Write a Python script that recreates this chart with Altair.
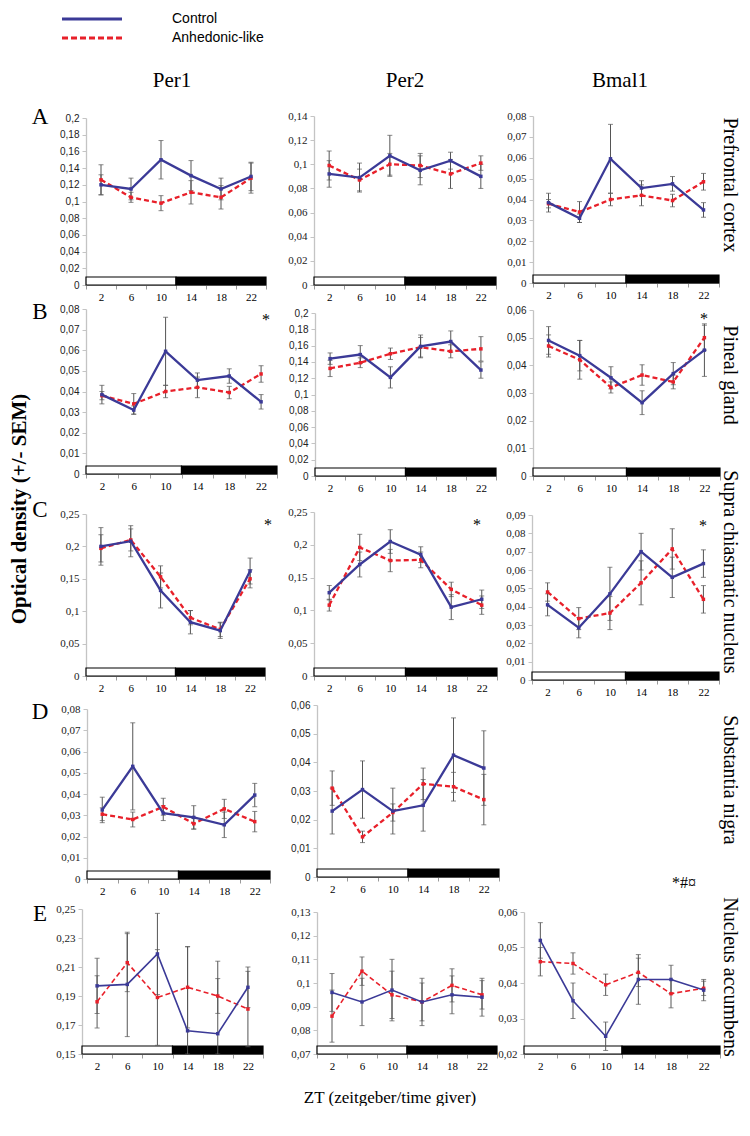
import altair as alt
import pandas as pd

ZT = [2, 6, 10, 14, 18, 22]
ZT_EDGES = [0, 4, 8, 12, 16, 20, 24]
LD_START = [0, 12]
LD_END = [12, 24]
LD_FILL = ["white", "black"]

SERIF = "Liberation Serif"
SANS = "Liberation Sans"
BLUE = "#3b3a97"
RED = "#e8202a"
ERRC = "#555555"

# ---- Row A: Prefrontal cortex ----
A_PER1_CTRL = [0.120, 0.115, 0.150, 0.131, 0.115, 0.130]
A_PER1_CTRL_ERR = [0.012, 0.013, 0.023, 0.018, 0.013, 0.017]
A_PER1_ANH = [0.126, 0.105, 0.098, 0.111, 0.105, 0.128]
A_PER1_ANH_ERR = [0.018, 0.006, 0.009, 0.014, 0.014, 0.018]
A_PER1_TICKS = [0, 0.02, 0.04, 0.06, 0.08, 0.1, 0.12, 0.14, 0.16, 0.18, 0.2]

A_PER2_CTRL = [0.092, 0.089, 0.107, 0.095, 0.103, 0.090]
A_PER2_CTRL_ERR = [0.011, 0.012, 0.017, 0.012, 0.007, 0.010]
A_PER2_ANH = [0.099, 0.087, 0.100, 0.099, 0.092, 0.101]
A_PER2_ANH_ERR = [0.012, 0.009, 0.009, 0.010, 0.012, 0.006]
A_PER2_TICKS = [0, 0.02, 0.04, 0.06, 0.08, 0.1, 0.12, 0.14]

A_BMAL1_CTRL = [0.0385, 0.031, 0.0595, 0.0455, 0.0475, 0.035]
A_BMAL1_CTRL_ERR = [0.0045, 0.002, 0.0165, 0.0035, 0.0035, 0.0035]
A_BMAL1_ANH = [0.038, 0.034, 0.040, 0.042, 0.0395, 0.0485]
A_BMAL1_ANH_ERR = [0.002, 0.005, 0.003, 0.005, 0.003, 0.004]
A_BMAL1_TICKS = [0, 0.01, 0.02, 0.03, 0.04, 0.05, 0.06, 0.07, 0.08]

# ---- Row B: Pineal gland ----
B_PER1_CTRL = [0.0385, 0.031, 0.0595, 0.0455, 0.0475, 0.035]
B_PER1_CTRL_ERR = [0.0045, 0.002, 0.0165, 0.0035, 0.0035, 0.0035]
B_PER1_ANH = [0.038, 0.034, 0.040, 0.042, 0.0395, 0.0485]
B_PER1_ANH_ERR = [0.002, 0.005, 0.003, 0.005, 0.003, 0.004]
B_PER1_TICKS = [0, 0.01, 0.02, 0.03, 0.04, 0.05, 0.06, 0.07, 0.08]

B_PER2_CTRL = [0.144, 0.149, 0.121, 0.159, 0.165, 0.130]
B_PER2_CTRL_ERR = [0.007, 0.011, 0.013, 0.014, 0.013, 0.010]
B_PER2_ANH = [0.132, 0.139, 0.150, 0.158, 0.153, 0.156]
B_PER2_ANH_ERR = [0.010, 0.006, 0.007, 0.012, 0.008, 0.015]
B_PER2_TICKS = [0, 0.02, 0.04, 0.06, 0.08, 0.1, 0.12, 0.14, 0.16, 0.18, 0.2]

B_BMAL1_CTRL = [0.049, 0.0435, 0.0355, 0.0265, 0.037, 0.0455]
B_BMAL1_CTRL_ERR = [0.005, 0.0055, 0.004, 0.0043, 0.004, 0.0095]
B_BMAL1_ANH = [0.047, 0.042, 0.032, 0.0365, 0.034, 0.050]
B_BMAL1_ANH_ERR = [0.004, 0.007, 0.002, 0.0037, 0.0025, 0.0045]
B_BMAL1_TICKS = [0, 0.01, 0.02, 0.03, 0.04, 0.05, 0.06]

# ---- Row C: Supra chiasmatic nucleus ----
C_PER1_CTRL = [0.200, 0.208, 0.132, 0.083, 0.070, 0.162]
C_PER1_CTRL_ERR = [0.029, 0.024, 0.027, 0.018, 0.012, 0.020]
C_PER1_ANH = [0.197, 0.210, 0.153, 0.090, 0.072, 0.150]
C_PER1_ANH_ERR = [0.021, 0.017, 0.017, 0.011, 0.011, 0.014]
C_PER1_TICKS = [0, 0.05, 0.1, 0.15, 0.2, 0.25]

C_PER2_CTRL = [0.127, 0.170, 0.205, 0.185, 0.105, 0.117]
C_PER2_CTRL_ERR = [0.011, 0.019, 0.018, 0.012, 0.019, 0.014]
C_PER2_ANH = [0.108, 0.196, 0.176, 0.177, 0.132, 0.108]
C_PER2_ANH_ERR = [0.009, 0.020, 0.017, 0.012, 0.011, 0.014]
C_PER2_TICKS = [0, 0.05, 0.1, 0.15, 0.2, 0.25]

C_BMAL1_CTRL = [0.041, 0.0285, 0.047, 0.070, 0.056, 0.0635]
C_BMAL1_CTRL_ERR = [0.006, 0.0055, 0.0145, 0.010, 0.011, 0.0075]
C_BMAL1_ANH = [0.048, 0.0335, 0.0365, 0.053, 0.0715, 0.044]
C_BMAL1_ANH_ERR = [0.005, 0.006, 0.009, 0.012, 0.011, 0.0075]
C_BMAL1_TICKS = [0, 0.01, 0.02, 0.03, 0.04, 0.05, 0.06, 0.07, 0.08, 0.09]

# ---- Row D: Substantia nigra ----
D_PER1_CTRL = [0.0325, 0.053, 0.031, 0.029, 0.0255, 0.0395]
D_PER1_CTRL_ERR = [0.006, 0.0205, 0.0035, 0.0055, 0.006, 0.0055]
D_PER1_ANH = [0.0305, 0.028, 0.034, 0.026, 0.033, 0.027]
D_PER1_ANH_ERR = [0.003, 0.0035, 0.004, 0.0025, 0.0045, 0.0048]
D_PER1_TICKS = [0, 0.01, 0.02, 0.03, 0.04, 0.05, 0.06, 0.07, 0.08]

D_PER2_CTRL = [0.023, 0.0305, 0.023, 0.025, 0.0425, 0.038]
D_PER2_CTRL_ERR = [0.008, 0.010, 0.008, 0.009, 0.013, 0.013]
D_PER2_ANH = [0.031, 0.014, 0.0225, 0.0325, 0.0315, 0.027]
D_PER2_ANH_ERR = [0.006, 0.002, 0.003, 0.0055, 0.005, 0.0088]
D_PER2_TICKS = [0, 0.01, 0.02, 0.03, 0.04, 0.05, 0.06]

# ---- Row E: Nucleus accumbens ----
E_PER1_CTRL = [0.197, 0.198, 0.219, 0.166, 0.164, 0.196]
E_PER1_CTRL_ERR = [0.019, 0.036, 0.028, 0.058, 0.050, 0.014]
E_PER1_ANH = [0.186, 0.213, 0.189, 0.196, 0.190, 0.181]
E_PER1_ANH_ERR = [0.018, 0.020, 0.033, 0.028, 0.012, 0.026]
E_PER1_TICKS = [0.15, 0.17, 0.19, 0.21, 0.23, 0.25]

E_PER2_CTRL = [0.096, 0.092, 0.097, 0.092, 0.095, 0.094]
E_PER2_CTRL_ERR = [0.008, 0.010, 0.013, 0.008, 0.008, 0.008]
E_PER2_ANH = [0.086, 0.105, 0.095, 0.092, 0.099, 0.095]
E_PER2_ANH_ERR = [0.011, 0.006, 0.010, 0.010, 0.007, 0.006]
E_PER2_TICKS = [0.07, 0.08, 0.09, 0.1, 0.11, 0.12, 0.13]

E_BMAL1_CTRL = [0.052, 0.035, 0.025, 0.041, 0.041, 0.038]
E_BMAL1_CTRL_ERR = [0.005, 0.005, 0.004, 0.007, 0.004, 0.003]
E_BMAL1_ANH = [0.046, 0.0455, 0.0395, 0.043, 0.037, 0.0385]
E_BMAL1_ANH_ERR = [0.004, 0.003, 0.003, 0.004, 0.004, 0.002]
E_BMAL1_TICKS = [0.02, 0.03, 0.04, 0.05, 0.06]

GENES = ["Per1", "Per2", "Bmal1"]
REGIONS = ["Prefrontal cortex", "Pineal gland", "Supra chiasmatic nucleus",
           "Substantia nigra", "Nucleus accumbens"]
LETTERS = ["A", "B", "C", "D", "E"]
LEGEND = ["Control", "Anhedonic-like"]
Y_TITLE = "Optical density (+/- SEM)"
X_TITLE = "ZT (zeitgeber/time giver)"

ONE = pd.DataFrame({"k": [0]})
LD_DF = pd.DataFrame({"s": LD_START, "e": LD_END, "f": LD_FILL})


def txt(text, x, y, font=SERIF, size=12, angle=0, align="center",
        baseline="middle", weight="normal", color="black"):
    return alt.Chart(ONE).mark_text(
        text=text, font=font, fontSize=size, angle=angle, align=align,
        baseline=baseline, fontWeight=weight, color=color
    ).encode(x=alt.value(x), y=alt.value(y))


def panel(ctrl, ctrl_err, anh, anh_err, ticks, W, H, xr, yr,
          lab_font=SERIF, lw=2.3, extras=()):
    x0, x1 = xr
    ytop, ybot = yr
    dc = pd.DataFrame({"zt": ZT, "v": ctrl,
                       "lo": [v - e for v, e in zip(ctrl, ctrl_err)],
                       "hi": [v + e for v, e in zip(ctrl, ctrl_err)]})
    da = pd.DataFrame({"zt": ZT, "v": anh,
                       "lo": [v - e for v, e in zip(anh, anh_err)],
                       "hi": [v + e for v, e in zip(anh, anh_err)]})
    dboth = pd.concat([dc, da], ignore_index=True)
    xs = alt.Scale(domain=[0, 24], range=[x0, x1], nice=False, zero=False)
    ys = alt.Scale(domain=[ticks[0], ticks[-1]], range=[ybot, ytop],
                   nice=False, zero=False, clamp=True)
    lab_size = 10 if lab_font == SANS else 11
    xaxis = alt.Axis(values=ZT_EDGES, title=None, grid=False,
                     labelExpr="datum.value < 24 ? toString(datum.value + 2) : ''",
                     labelOffset=(x1 - x0) / 12.0, labelFlush=False,
                     labelOverlap=False, labelFont=SERIF, labelFontSize=11,
                     labelPadding=2, tickSize=4, offset=ybot - H,
                     domainColor="#9a9a9a", tickColor="#9a9a9a",
                     labelColor="black")
    yaxis = alt.Axis(values=ticks, title=None, grid=False,
                     labelExpr="replace(toString(datum.value), '.', ',')",
                     labelOverlap=False, labelFont=lab_font,
                     labelFontSize=lab_size, labelPadding=3, tickSize=4,
                     offset=-x0, domainColor="#c4c4c4", domainWidth=1.3,
                     tickColor="#c4c4c4", labelColor="#222222")
    X = alt.X("zt:Q", scale=xs, axis=xaxis)
    ld = alt.Chart(LD_DF).mark_rect(stroke="black", strokeWidth=1.2).encode(
        x=alt.X("s:Q", scale=xs, axis=xaxis), x2="e:Q",
        y=alt.value(ybot - 8), y2=alt.value(ybot),
        fill=alt.Fill("f:N", scale=None))
    rules = alt.Chart(dboth).mark_rule(color=ERRC, strokeWidth=1).encode(
        x=X, y=alt.Y("lo:Q", scale=ys, axis=yaxis), y2="hi:Q")
    cap_lo = alt.Chart(dboth).mark_tick(color=ERRC, orient="horizontal",
                                        size=5, thickness=1).encode(
        x=X, y=alt.Y("lo:Q", scale=ys, axis=yaxis))
    cap_hi = alt.Chart(dboth).mark_tick(color=ERRC, orient="horizontal",
                                        size=5, thickness=1).encode(
        x=X, y=alt.Y("hi:Q", scale=ys, axis=yaxis))
    line_c = alt.Chart(dc).mark_line(
        color=BLUE, strokeWidth=lw,
        point=alt.OverlayMarkDef(shape="square", size=12, filled=True,
                                 color=BLUE, opacity=1)
    ).encode(x=X, y=alt.Y("v:Q", scale=ys, axis=yaxis))
    line_a = alt.Chart(da).mark_line(
        color=RED, strokeWidth=lw, strokeDash=[5, 3],
        point=alt.OverlayMarkDef(shape="square", size=12, filled=True,
                                 color=RED, opacity=1)
    ).encode(x=X, y=alt.Y("v:Q", scale=ys, axis=yaxis))
    return alt.layer(ld, rules, cap_lo, cap_hi, line_a, line_c,
                     *extras).properties(width=W, height=H)


W1, W2, W3 = 200, 200, 205
HA, HB, HC, HD, HE = 169, 167, 180, 175, 151
RX = 210  # x of the rotated region labels inside a Bmal1-column frame
RS = 20   # font size of the region labels

# global decorations placed relative to panel A-Per1 frame (page x 80, y 114)
anchor = alt.Chart(ONE).mark_rule(opacity=0, strokeWidth=0).encode(
    x=alt.value(-72), x2=alt.value(-71), y=alt.value(-108), y2=alt.value(-108))
leg_c = alt.Chart(ONE).mark_rule(color=BLUE, strokeWidth=3).encode(
    x=alt.value(-18), x2=alt.value(42), y=alt.value(-97), y2=alt.value(-97))
leg_a = alt.Chart(ONE).mark_rule(color=RED, strokeWidth=3, strokeDash=[6, 3]).encode(
    x=alt.value(-18), x2=alt.value(42), y=alt.value(-78), y2=alt.value(-78))
glob = [
    anchor, leg_c, leg_a,
    txt(LEGEND[0], 92, -97, font=SANS, size=14, align="left"),
    txt(LEGEND[1], 92, -78, font=SANS, size=14, align="left"),
    txt(GENES[0], 92, -35, size=21),
    txt(GENES[1], 325, -35, size=21),
    txt(GENES[2], 540, -35, size=21),
    txt(Y_TITLE, -60, 393, size=21, angle=270, weight="bold"),
    txt(X_TITLE, 310, 982, size=17),
    txt(LETTERS[0], -40, 1, size=23),
]

pA1 = panel(A_PER1_CTRL, A_PER1_CTRL_ERR, A_PER1_ANH, A_PER1_ANH_ERR, A_PER1_TICKS,
            W1, HA, (6, 186), (2, 169), lab_font=SANS, extras=glob)
pA2 = panel(A_PER2_CTRL, A_PER2_CTRL_ERR, A_PER2_ANH, A_PER2_ANH_ERR, A_PER2_TICKS,
            W2, HA, (14, 196), (0, 169))
pA3 = panel(A_BMAL1_CTRL, A_BMAL1_CTRL_ERR, A_BMAL1_ANH, A_BMAL1_ANH_ERR, A_BMAL1_TICKS,
            W3, HA, (13, 199), (0, 167),
            extras=[txt(REGIONS[0], RX, 69, size=RS, angle=90)])

pB1 = panel(B_PER1_CTRL, B_PER1_CTRL_ERR, B_PER1_ANH, B_PER1_ANH_ERR, B_PER1_TICKS,
            W1, HB, (6, 197), (0, 165), lab_font=SANS,
            extras=[txt(LETTERS[1], -40, 3, size=23),
                    txt("*", 186, 16, size=16, baseline="alphabetic")])
pB2 = panel(B_PER2_CTRL, B_PER2_CTRL_ERR, B_PER2_ANH, B_PER2_ANH_ERR, B_PER2_TICKS,
            W2, HB, (15, 196), (4, 167), lab_font=SANS)
pB3 = panel(B_BMAL1_CTRL, B_BMAL1_CTRL_ERR, B_BMAL1_ANH, B_BMAL1_ANH_ERR, B_BMAL1_TICKS,
            W3, HB, (13, 200), (1, 167), lab_font=SANS,
            extras=[txt("*", 184, 15, size=16, baseline="alphabetic"),
                    txt(REGIONS[1], RX, 66, size=RS, angle=90)])

pC1 = panel(C_PER1_CTRL, C_PER1_CTRL_ERR, C_PER1_ANH, C_PER1_ANH_ERR, C_PER1_TICKS,
            W1, HC, (6, 185), (14, 176),
            extras=[txt(LETTERS[2], -40, 10, size=23),
                    txt("*", 188, 30, size=16, baseline="alphabetic")])
pC2 = panel(C_PER2_CTRL, C_PER2_CTRL_ERR, C_PER2_ANH, C_PER2_ANH_ERR, C_PER2_TICKS,
            W2, HC, (14, 197), (12, 176),
            extras=[txt("*", 177, 30, size=16, baseline="alphabetic")])
pC3 = panel(C_BMAL1_CTRL, C_BMAL1_CTRL_ERR, C_BMAL1_ANH, C_BMAL1_ANH_ERR, C_BMAL1_TICKS,
            W3, HC, (12, 199), (15, 180),
            extras=[txt("*", 183, 31, size=16, baseline="alphabetic"),
                    txt(REGIONS[2], RX, 72, size=RS, angle=90)])

pD1 = panel(D_PER1_CTRL, D_PER1_CTRL_ERR, D_PER1_ANH, D_PER1_ANH_ERR, D_PER1_TICKS,
            W1, HD, (7, 190), (5, 175),
            extras=[txt(LETTERS[3], -40, 8, size=23)])
pD2 = panel(D_PER2_CTRL, D_PER2_CTRL_ERR, D_PER2_ANH, D_PER2_ANH_ERR, D_PER2_TICKS,
            W2, HD, (17, 199), (1, 173), lab_font=SANS)
# empty cell (no Bmal1 data for substantia nigra) carrying the row label
pD3 = alt.layer(txt(REGIONS[3], RX, 76, size=RS, angle=90)).properties(
    width=W3, height=HD)

pE1 = panel(E_PER1_CTRL, E_PER1_CTRL_ERR, E_PER1_ANH, E_PER1_ANH_ERR, E_PER1_TICKS,
            W1, HE, (2, 183), (6, 151), lw=1.6,
            extras=[txt(LETTERS[4], -40, 11, size=23)])
pE2 = panel(E_PER2_CTRL, E_PER2_CTRL_ERR, E_PER2_ANH, E_PER2_ANH_ERR, E_PER2_TICKS,
            W2, HE, (17, 197), (9, 151), lw=1.6)
pE3 = panel(E_BMAL1_CTRL, E_BMAL1_CTRL_ERR, E_BMAL1_ANH, E_BMAL1_ANH_ERR, E_BMAL1_TICKS,
            W3, HE, (4, 200), (9, 151), lw=1.6,
            extras=[txt("*#¤", 164, -20, size=16),
                    txt(REGIONS[4], RX, 74, size=RS, angle=90)])

chart = alt.concat(
    pA1, pA2, pA3,
    pB1, pB2, pB3,
    pC1, pC2, pC3,
    pD1, pD2, pD3,
    pE1, pE2, pE3,
    columns=3, spacing={"row": 24, "column": 20}, bounds="flush",
).resolve_scale(x="independent", y="independent").properties(
    padding=0, background="white"
).configure_view(strokeWidth=0, stroke="transparent")

chart.save("out.html", embed_options={"renderer": "svg", "actions": False})
